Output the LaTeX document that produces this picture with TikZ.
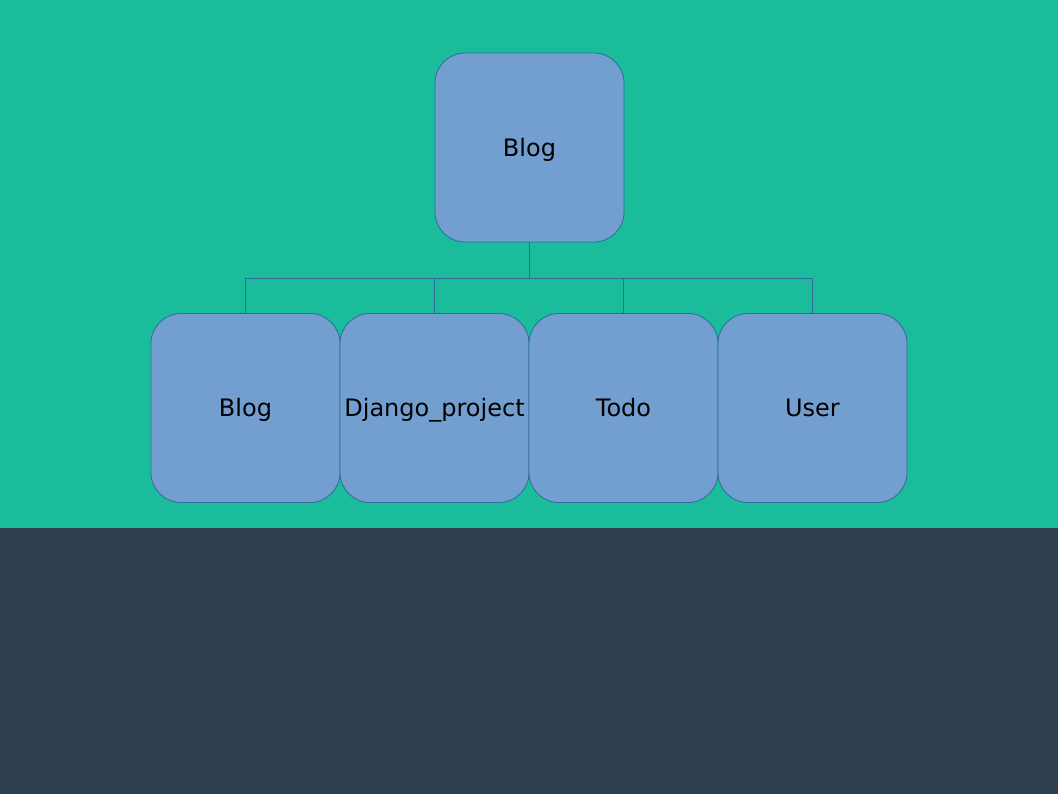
\documentclass[tikz,border=0pt]{standalone}
\usepackage{fontspec}
\setmainfont{DejaVu Sans}
\definecolor{sea}{HTML}{1ABC9C}
\definecolor{night}{HTML}{2C3E50}
\definecolor{boxfill}{HTML}{729FCF}
\definecolor{boxline}{HTML}{2E6B9A}
\tikzset{
  appbox/.style={draw=boxline, fill=boxfill, rounded corners=15pt, minimum size=94.5pt, inner sep=0pt, text height=11pt, text depth=2.5pt, font=\fontsize{12}{14}\selectfont},
  link/.style={draw=boxline, line width=0.5pt}
}
\begin{document}
\begin{tikzpicture}[x=0.5pt, y=-0.5pt, line join=round]
\fill[sea] (0,0) rectangle (1058,528);
\fill[night] (0,528) rectangle (1058,794);
\useasboundingbox (0,0) rectangle (1058,794);
\node[appbox] (root) at (529.5,147.5) {Blog};
\foreach \n/\x/\t in {blog/245.5/Blog, django/434.5/Django\_project, todo/623.5/Todo, user/812.5/User}
  \node[appbox] (\n) at (\x,408) {\t};
\path (529.5,278) coordinate (bar);
\draw[link] (root.south)--(bar);
\foreach \n in {blog,django,todo,user} {\draw[link] (bar)-|(\n.north);}
\end{tikzpicture}
\end{document}
